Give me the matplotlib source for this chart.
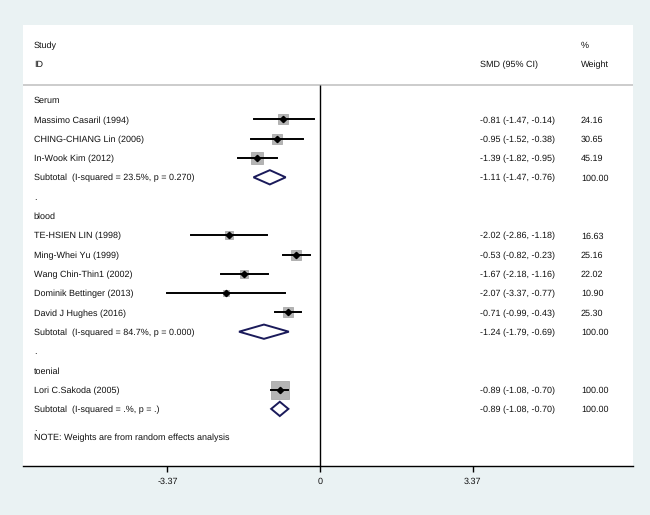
import matplotlib.pyplot as plt
from matplotlib.patches import Polygon

# study level data
groups = ["Serum", "blood", "toenial"]
study_names = ["Massimo Casaril (1994)", "CHING-CHIANG Lin (2006)", "In-Wook Kim (2012)",
               "TE-HSIEN LIN (1998)", "Ming-Whei Yu (1999)", "Wang Chin-Thin1 (2002)",
               "Dominik Bettinger (2013)", "David J Hughes (2016)",
               "Lori C.Sakoda (2005)"]
study_group = [0, 0, 0, 1, 1, 1, 1, 1, 2]
smd = [-0.81, -0.95, -1.39, -2.02, -0.53, -1.67, -2.07, -0.71, -0.89]
lo = [-1.47, -1.52, -1.82, -2.86, -0.82, -2.18, -3.37, -0.99, -1.08]
hi = [-0.14, -0.38, -0.95, -1.18, -0.23, -1.16, -0.77, -0.43, -0.70]
weight = [24.16, 30.65, 45.19, 16.63, 25.16, 22.02, 10.90, 25.30, 100.00]

# subtotals
sub_label = ["Subtotal  (I-squared = 23.5%, p = 0.270)",
             "Subtotal  (I-squared = 84.7%, p = 0.000)",
             "Subtotal  (I-squared = .%, p = .)"]
sub_smd = [-1.11, -1.24, -0.89]
sub_lo = [-1.47, -1.79, -1.08]
sub_hi = [-0.76, -0.69, -0.70]
sub_weight = [100.00, 100.00, 100.00]

ticks = [-3.37, 0, 3.37]
tick_labels = ["-3.37", "0", "3.37"]

plt.rcParams['font.family'] = ['Liberation Sans', 'DejaVu Sans']
plt.rcParams['text.hinting'] = 'no_hinting'
plt.rcParams['text.hinting_factor'] = 1
fs = 6.5
x_name, x_smd, x_w = -6.32, 3.53, 5.76

fig = plt.figure(figsize=(6.5, 5.15), dpi=100, facecolor='#eaf2f3')
ax = fig.add_axes([0.0354, 0.0951, 0.9385, 0.8563])
ax.set_facecolor('white')
ax.set_xlim(-6.56, 6.91)
ax.set_ylim(18.96, -3.89)

def txt(x, y, s):
    # baseline placed a little below the row centre so every column lines up
    ax.text(x, y + 0.17, s, fontsize=fs, va='baseline', color='#111111')

# header
txt(x_name, -2.85, "Study")
txt(x_name, -1.87, "ID")
txt(x_smd, -1.87, "SMD (95% CI)")
txt(x_w, -2.85, "%")
txt(x_w, -1.87, "Weight")
ax.axhline(-0.78, color='#c4c4c4', lw=1.2)
ax.vlines(0, -0.78, 18.96, color='black', lw=1)

def ci_text(m, l, h):
    return f"{m:.2f} ({l:.2f}, {h:.2f})"

row = 0
for g, gname in enumerate(groups):
    txt(x_name, row, gname)
    row += 1
    for i in range(len(study_names)):
        if study_group[i] != g:
            continue
        ax.scatter(smd[i], row, marker='s', s=1.75 * weight[i], color='#b4b4b4',
                   edgecolor='#a0a0a0', lw=0.5, zorder=2)
        ax.plot([lo[i], hi[i]], [row, row], color='black', lw=1.4, zorder=3)
        ax.plot(smd[i], row, marker='D', color='black', ms=3.2, zorder=4)
        txt(x_name, row, study_names[i])
        txt(x_smd, row, ci_text(smd[i], lo[i], hi[i]))
        txt(x_w, row, f"{weight[i]:.2f}")
        row += 1
    h = 0.37
    dia = Polygon([(sub_lo[g], row), (sub_smd[g], row - h), (sub_hi[g], row),
                   (sub_smd[g], row + h)], closed=True, fill=False,
                  edgecolor='#1a1a5a', lw=1.4, zorder=3)
    ax.add_patch(dia)
    txt(x_name, row, sub_label[g])
    txt(x_smd, row, ci_text(sub_smd[g], sub_lo[g], sub_hi[g]))
    txt(x_w, row, f"{sub_weight[g]:.2f}")
    row += 1
    if g < len(groups) - 1:
        txt(x_name, row, ".")
        row += 1

txt(x_name, row - 0.05, ".")
txt(x_name, row + 0.46, "NOTE: Weights are from random effects analysis")

for s in ['top', 'left', 'right']:
    ax.spines[s].set_visible(False)
ax.spines['bottom'].set_linewidth(1)
ax.set_yticks([])
ax.set_xticks(ticks)
ax.set_xticklabels(tick_labels, fontsize=fs, color='#111111')
ax.tick_params(axis='x', direction='out', length=4, width=1, pad=4)

fig.savefig('out.png', dpi=100, facecolor=fig.get_facecolor())
